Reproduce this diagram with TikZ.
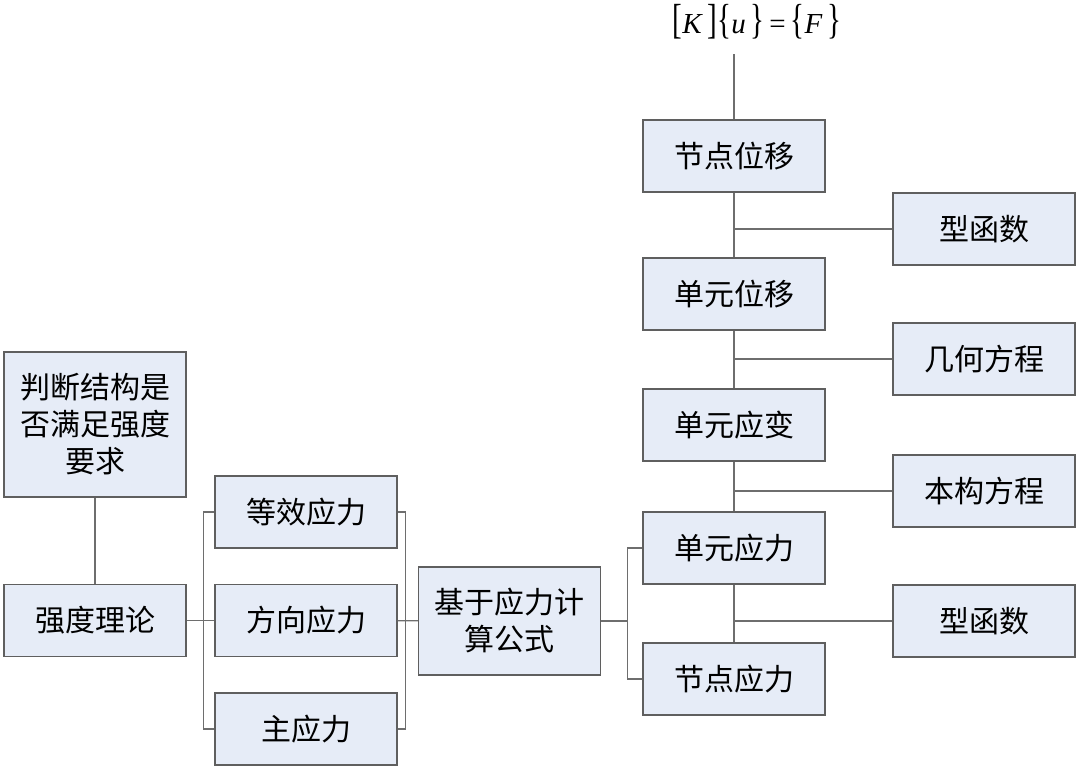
\documentclass[tikz,border=0pt]{standalone}
\usepackage{fontspec}
\newfontfamily\cjk{Noto Sans CJK SC}
\newfontfamily\tnr{Liberation Serif}
\usetikzlibrary{positioning}
\definecolor{boxfill}{RGB}{230,236,247}
\definecolor{boxline}{RGB}{95,95,95}
\definecolor{wirecol}{RGB}{110,110,110}
\newcommand\tallbr[1]{\scalebox{1}[1.45]{#1}}

\begin{document}
\begin{tikzpicture}[x=1pt,y=-1pt,
	box/.style={draw=boxline, fill=boxfill, line width=1.2pt, minimum width=182pt, minimum height=72pt, inner sep=0pt, align=center, font=\cjk\fontsize{30}{37}\selectfont},
	wire/.style={draw=wirecol, line width=1.1pt}]
	\useasboundingbox (0,0) rectangle (1080,771);

	\node[box, minimum height=145pt] (judge) at (95,424.5) {判断结构是\\否满足强度\\要求};
	\node[box] (theory) at (95,620.5) {强度理论};
	\node[box] (equiv) at (306,512) {等效应力};
	\node[box] (dirs) at (306,620.5) {方向应力};
	\node[box] (princ) at (306,729) {主应力};
	\node[box, minimum height=108pt] (calc) at (509.5,621) {基于应力计\\算公式};
	\node[box] (ndisp) at (734,156) {节点位移};
	\node[box] (edisp) at (734,294) {单元位移};
	\node[box] (estrain) at (734,425) {单元应变};
	\node[box] (estress) at (734,548) {单元应力};
	\node[box] (nstress) at (734,679) {节点应力};
	\node[box] (shapea) at (984,229) {型函数};
	\node[box] (geom) at (984,359) {几何方程};
	\node[box] (const) at (984,491) {本构方程};
	\node[box] (shapeb) at (984,621) {型函数};
	\node[font=\tnr\fontsize{29}{32}\selectfont, inner sep=1pt] (eq) at (757,22) {\tallbr{[}\textit{K}\,\tallbr{]}\tallbr{\{}\textit{u}\,\tallbr{\}}\,=\,\tallbr{\{}\textit{F}\,\tallbr{\}}};

	\draw[wire] (judge) -- (theory);
	\draw[wire] (theory) -- (dirs);
	\draw[wire] (equiv.west) -- ++(-11,0) |- (princ.west);
	\draw[wire] (equiv.east) -- ++(8,0) |- (princ.east);
	\draw[wire] (dirs) -- (calc);
	\draw[wire] (estress.west) -- ++(-15,0) coordinate (rb) |- (nstress.west);
	\draw[wire] (calc) -- (calc.east -| rb);
	\draw[wire] (ndisp.north) -- ++(0,-65);
	\draw[wire] (ndisp) -- (edisp);
	\draw[wire] (edisp) -- (estrain);
	\draw[wire] (estrain) -- (estress);
	\draw[wire] (estress) -- (nstress);
	\draw[wire] (shapea.west) -- (shapea.west -| ndisp);
	\draw[wire] (geom.west) -- (geom.west -| ndisp);
	\draw[wire] (const.west) -- (const.west -| ndisp);
	\draw[wire] (shapeb.west) -- (shapeb.west -| ndisp);
\end{tikzpicture}
\end{document}
